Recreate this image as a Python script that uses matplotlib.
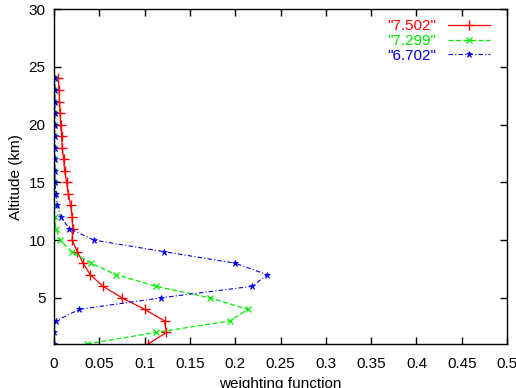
import numpy as np
import matplotlib
matplotlib.use("Agg")
import matplotlib.pyplot as plt

plt.rcParams['font.family'] = ['Liberation Sans', 'DejaVu Sans']

# altitude levels (km)
alt = list(range(1, 25))

# weighting functions per channel
w_7502 = [0.104, 0.124, 0.122, 0.100, 0.075, 0.054, 0.040, 0.032, 0.0257, 0.020,
          0.0205, 0.020, 0.0183, 0.0158, 0.0139, 0.0117, 0.0106, 0.009, 0.0084,
          0.0073, 0.0066, 0.006, 0.0055, 0.0048]
w_7299 = [0.036, 0.112, 0.194, 0.214, 0.172, 0.1125, 0.0686, 0.041, 0.0194, 0.0066,
          0.002, 0.001, 0.0, 0.0, 0.0, 0.0, 0.0, 0.0, 0.0, 0.0, 0.0, 0.0, 0.0, 0.0]
w_6702 = [0.0, 0.0, 0.002, 0.028, 0.118, 0.219, 0.235, 0.200, 0.121, 0.044,
          0.017, 0.0073, 0.0037, 0.002, 0.001, 0.001, 0.001, 0.001, 0.001, 0.001,
          0.001, 0.001, 0.001, 0.001]

labels = ['"7.502"', '"7.299"', '"6.702"']
xticks = [0, 0.05, 0.1, 0.15, 0.2, 0.25, 0.3, 0.35, 0.4, 0.45, 0.5]
xticklabels = ['0', '0.05', '0.1', '0.15', '0.2', '0.25', '0.3', '0.35', '0.4', '0.45', '0.5']
yticks = [5, 10, 15, 20, 25, 30]

fig = plt.figure(figsize=(5.16, 3.88), dpi=100)
ax = fig.add_axes([0.1047, 0.1134, 0.878, 0.863])

ax.plot(w_7502, alt, color='#ff0000', linestyle='-', lw=0.9, marker='+', ms=6.5, mew=1.0, label=labels[0])
ax.plot(w_7299, alt, color='#00ee00', linestyle='--', lw=0.9, marker='x', ms=4, mew=0.9, label=labels[1],
        dashes=(4, 2))
ax.plot(w_6702, alt, color='#0000ee', linestyle='-.', lw=0.8, marker='*', ms=5, mew=0.5, label=labels[2],
        dashes=(4, 2, 1, 2))

ax.set_xlim(0, 0.5)
ax.set_ylim(1, 30)
ax.set_xticks(xticks)
ax.set_xticklabels(xticklabels)
ax.set_yticks(yticks)
ax.tick_params(direction='in', top=True, right=True, length=5, width=1, labelsize=11)
ax.tick_params(axis='x', pad=9)
ax.tick_params(axis='y', pad=6)
for s in ax.spines.values():
    s.set_linewidth(1)

ax.set_xlabel('weighting function', fontsize=11, labelpad=5)
ax.set_ylabel('Altitude (km)', fontsize=11, labelpad=4)

leg = ax.legend(loc='upper right', bbox_to_anchor=(0.985, 1.0), frameon=False, markerfirst=False,
                numpoints=1, handlelength=2.75, fontsize=11, labelspacing=0.05, borderaxespad=0.25,
                handletextpad=0.8, labelcolor='linecolor')

fig.savefig('out.png', dpi=100)
